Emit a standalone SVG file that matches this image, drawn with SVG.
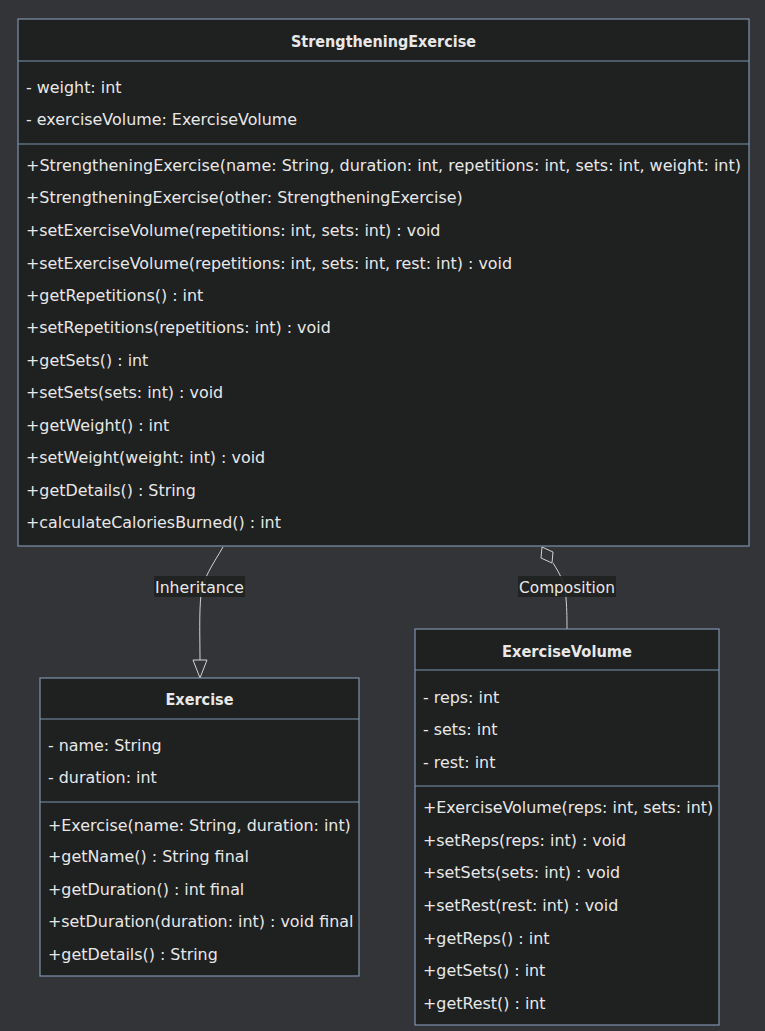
<svg xmlns="http://www.w3.org/2000/svg" width="765" height="1031" viewBox="0 0 765 1031">
<defs>
<style>
.bg{fill:#333438}
.box{fill:#1f2020;stroke:#7d93ad;stroke-width:1.2}
.div{stroke:#7d93ad;stroke-width:1.2}
text{font-family:"DejaVu Sans",Verdana,sans-serif;font-size:15.9px;fill:#e8e8e8}
.title{font-weight:bold;text-anchor:middle}
.edge{fill:none;stroke:#d3d3d3;stroke-width:1}
.lblbg{fill:#1f2020;opacity:0.9}
.lbl{text-anchor:middle}
</style>
</defs>
<rect class="bg" x="0" y="0" width="765" height="1031"/>

<g id="connectors">
<path class="edge" d="M223,547 C212,566 203,578 201,595 C199,612 200,640 200,660"/>
<polygon points="193,660 207,660 200,678" fill="#333438" stroke="#d3d3d3" stroke-width="1"/>
<path class="edge" d="M553,563 C560,574 565,583 566,598 C567,612 567,620 567,629"/>
<polygon points="542,547 541,558 552,563 553,552" fill="#333438" stroke="#d3d3d3" stroke-width="1"/>
<g id="label-inheritance">
<rect class="lblbg" x="154" y="576" width="91" height="21"/>
<text class="lbl" x="199.5" y="592.5" textLength="89" lengthAdjust="spacingAndGlyphs">Inheritance</text>
</g>
<g id="label-composition">
<rect class="lblbg" x="518" y="576" width="98" height="21"/>
<text class="lbl" x="567" y="592.5" textLength="96" lengthAdjust="spacingAndGlyphs">Composition</text>
</g>
</g>

<g id="StrengtheningExercise">
<rect class="box" x="18" y="19" width="731" height="527"/>
<line class="div" x1="18" y1="61" x2="749" y2="61"/>
<line class="div" x1="18" y1="144" x2="749" y2="144"/>
<text class="title" x="383.5" y="46.5" textLength="185" lengthAdjust="spacingAndGlyphs">StrengtheningExercise</text>
<text x="26" y="93">- weight: int</text>
<text x="26" y="125">- exerciseVolume: ExerciseVolume</text>
<text x="26" y="171" textLength="715" lengthAdjust="spacingAndGlyphs">+StrengtheningExercise(name: String, duration: int, repetitions: int, sets: int, weight: int)</text>
<text x="26" y="203">+StrengtheningExercise(other: StrengtheningExercise)</text>
<text x="26" y="236">+setExerciseVolume(repetitions: int, sets: int) : void</text>
<text x="26" y="269">+setExerciseVolume(repetitions: int, sets: int, rest: int) : void</text>
<text x="26" y="301">+getRepetitions() : int</text>
<text x="26" y="333">+setRepetitions(repetitions: int) : void</text>
<text x="26" y="366">+getSets() : int</text>
<text x="26" y="398">+setSets(sets: int) : void</text>
<text x="26" y="431">+getWeight() : int</text>
<text x="26" y="463">+setWeight(weight: int) : void</text>
<text x="26" y="496">+getDetails() : String</text>
<text x="26" y="528">+calculateCaloriesBurned() : int</text>
</g>

<g id="Exercise">
<rect class="box" x="40" y="678" width="319" height="298"/>
<line class="div" x1="40" y1="719" x2="359" y2="719"/>
<line class="div" x1="40" y1="802" x2="359" y2="802"/>
<text class="title" x="199.5" y="705" textLength="68" lengthAdjust="spacingAndGlyphs">Exercise</text>
<text x="48" y="751">- name: String</text>
<text x="48" y="783">- duration: int</text>
<text x="48" y="831">+Exercise(name: String, duration: int)</text>
<text x="48" y="862">+getName() : String final</text>
<text x="48" y="895">+getDuration() : int final</text>
<text x="48" y="927">+setDuration(duration: int) : void final</text>
<text x="48" y="960">+getDetails() : String</text>
</g>

<g id="ExerciseVolume">
<rect class="box" x="415" y="629" width="304" height="396"/>
<line class="div" x1="415" y1="670" x2="719" y2="670"/>
<line class="div" x1="415" y1="786" x2="719" y2="786"/>
<text class="title" x="567" y="656.5" textLength="130" lengthAdjust="spacingAndGlyphs">ExerciseVolume</text>
<text x="423" y="703">- reps: int</text>
<text x="423" y="735">- sets: int</text>
<text x="423" y="768">- rest: int</text>
<text x="423" y="813">+ExerciseVolume(reps: int, sets: int)</text>
<text x="423" y="846">+setReps(reps: int) : void</text>
<text x="423" y="878">+setSets(sets: int) : void</text>
<text x="423" y="911">+setRest(rest: int) : void</text>
<text x="423" y="944">+getReps() : int</text>
<text x="423" y="976">+getSets() : int</text>
<text x="423" y="1009">+getRest() : int</text>
</g>
</svg>
